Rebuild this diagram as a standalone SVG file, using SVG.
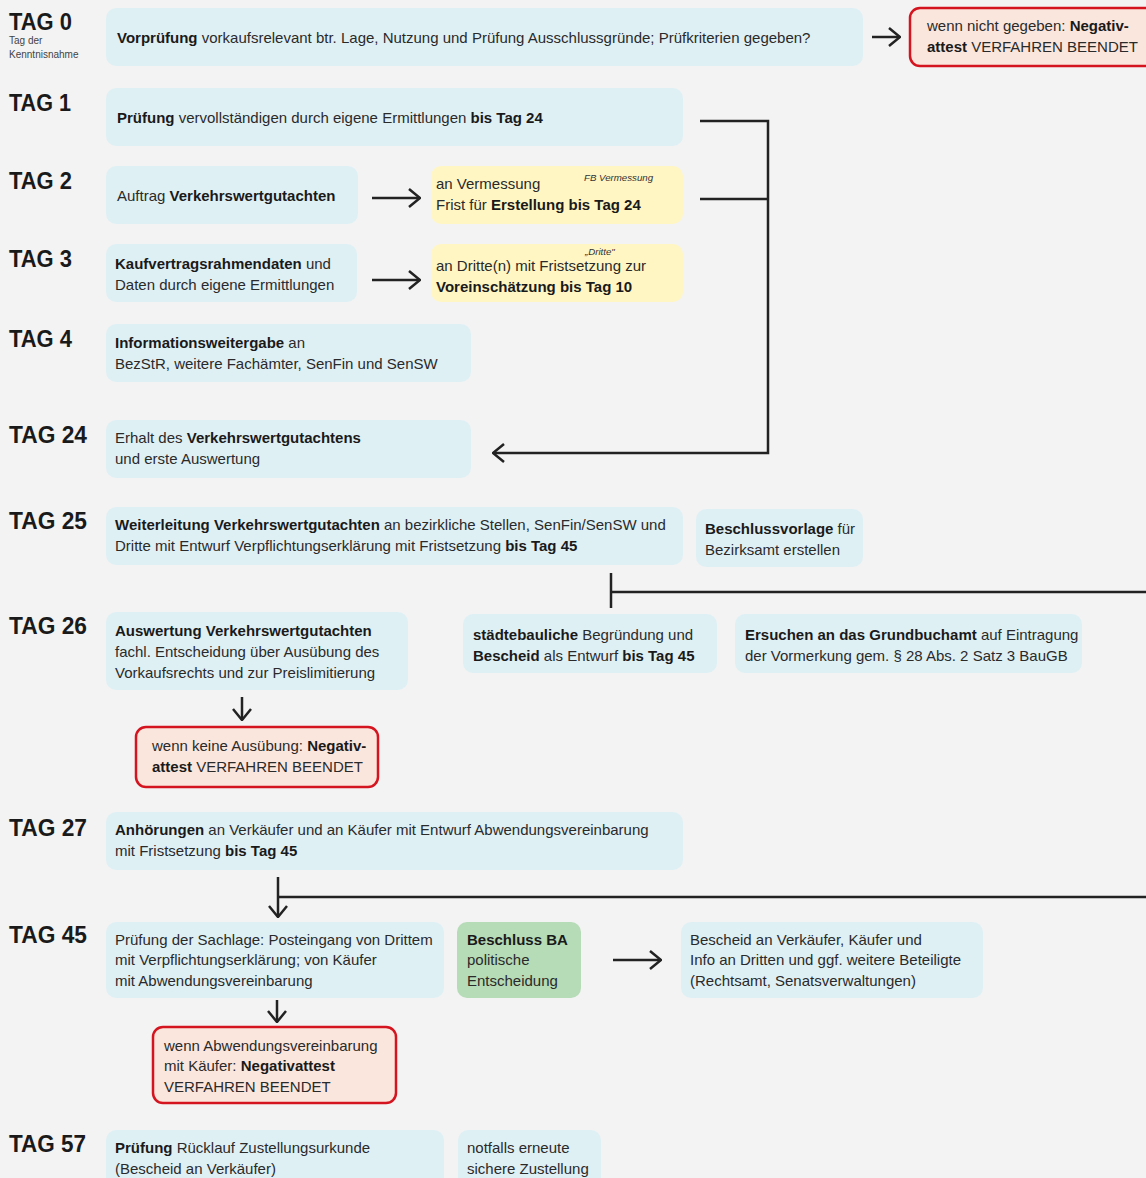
<svg xmlns="http://www.w3.org/2000/svg" width="1146" height="1178" viewBox="0 0 1146 1178">
<style>
text{font-family:"Liberation Sans",Arial,sans-serif;fill:#2a2a2a;font-size:15px}
.tag{font-size:24px;font-weight:bold;fill:#1a1a1a}
.sub{font-size:10px;fill:#444}
.note{font-size:9.7px;font-style:italic;fill:#333}
.b{font-weight:bold;fill:#1a1a1a}
.blue{fill:#dff0f5}
.yel{fill:#fff6c4}
.grn{fill:#b6dbb7}
.red{fill:#fbe6dd;stroke:#d4141f;stroke-width:2.5}
.ln{fill:none;stroke:#222;stroke-width:2.5}
</style>
<defs>
<marker id="ah" viewBox="0 0 14 20" refX="13" refY="10" markerWidth="14" markerHeight="20" markerUnits="userSpaceOnUse" orient="auto">
<path d="M2,1 L13,10 L2,19" fill="none" stroke="#222" stroke-width="2.5"/>
</marker>
</defs>
<rect width="1146" height="1178" fill="#f3f3f3"/>

<g id="labels">
<text class="tag" x="9" y="30" textLength="63" lengthAdjust="spacingAndGlyphs">TAG 0</text>
<text class="sub" x="9" y="44">Tag der</text>
<text class="sub" x="9" y="58">Kenntnisnahme</text>
<text class="tag" x="9" y="111" textLength="62" lengthAdjust="spacingAndGlyphs">TAG 1</text>
<text class="tag" x="9" y="189" textLength="63" lengthAdjust="spacingAndGlyphs">TAG 2</text>
<text class="tag" x="9" y="267" textLength="63" lengthAdjust="spacingAndGlyphs">TAG 3</text>
<text class="tag" x="9" y="347" textLength="63" lengthAdjust="spacingAndGlyphs">TAG 4</text>
<text class="tag" x="9" y="443" textLength="78" lengthAdjust="spacingAndGlyphs">TAG 24</text>
<text class="tag" x="9" y="529" textLength="78" lengthAdjust="spacingAndGlyphs">TAG 25</text>
<text class="tag" x="9" y="634" textLength="78" lengthAdjust="spacingAndGlyphs">TAG 26</text>
<text class="tag" x="9" y="836" textLength="78" lengthAdjust="spacingAndGlyphs">TAG 27</text>
<text class="tag" x="9" y="943" textLength="78" lengthAdjust="spacingAndGlyphs">TAG 45</text>
<text class="tag" x="9" y="1152" textLength="77" lengthAdjust="spacingAndGlyphs">TAG 57</text>
</g>

<g id="n0">
<rect class="blue" x="106" y="8" width="757" height="58" rx="10"/>
<text x="117" y="43"><tspan class="b">Vorprüfung</tspan> vorkaufsrelevant btr. Lage, Nutzung und Prüfung Ausschlussgründe; Prüfkriterien gegeben?</text>
</g>
<g id="n0neg">
<rect class="red" x="910" y="8" width="250" height="58" rx="10"/>
<text x="927" y="31">wenn nicht gegeben: <tspan class="b">Negativ-</tspan></text>
<text x="927" y="52"><tspan class="b">attest</tspan> VERFAHREN BEENDET</text>
</g>

<g id="n1">
<rect class="blue" x="106" y="88" width="577" height="58" rx="10"/>
<text x="117" y="123"><tspan class="b">Prüfung</tspan> vervollständigen durch eigene Ermittlungen <tspan class="b">bis Tag 24</tspan></text>
</g>

<g id="n2">
<rect class="blue" x="106" y="166" width="252" height="58" rx="10"/>
<text x="117" y="201">Auftrag <tspan class="b">Verkehrswertgutachten</tspan></text>
</g>
<g id="n2v">
<rect class="yel" x="431" y="166" width="252" height="58" rx="10"/>
<text class="note" x="584" y="181">FB Vermessung</text>
<text x="436" y="189">an Vermessung</text>
<text x="436" y="210">Frist für <tspan class="b">Erstellung bis Tag 24</tspan></text>
</g>

<g id="n3">
<rect class="blue" x="106" y="244" width="251" height="58" rx="10"/>
<text x="115" y="269"><tspan class="b">Kaufvertragsrahmendaten</tspan> und</text>
<text x="115" y="290">Daten durch eigene Ermittlungen</text>
</g>
<g id="n3d">
<rect class="yel" x="431" y="244" width="252" height="58" rx="10"/>
<text class="note" x="585" y="255">„Dritte"</text>
<text x="436" y="271">an Dritte(n) mit Fristsetzung zur</text>
<text x="436" y="292"><tspan class="b">Voreinschätzung bis Tag 10</tspan></text>
</g>

<g id="n4">
<rect class="blue" x="106" y="324" width="365" height="58" rx="10"/>
<text x="115" y="348"><tspan class="b">Informationsweitergabe</tspan> an</text>
<text x="115" y="369">BezStR, weitere Fachämter, SenFin und SenSW</text>
</g>

<g id="n24">
<rect class="blue" x="106" y="420" width="365" height="58" rx="10"/>
<text x="115" y="443">Erhalt des <tspan class="b">Verkehrswertgutachtens</tspan></text>
<text x="115" y="464">und erste Auswertung</text>
</g>

<g id="n25">
<rect class="blue" x="106" y="507" width="577" height="58" rx="10"/>
<text x="115" y="530"><tspan class="b">Weiterleitung Verkehrswertgutachten</tspan> an bezirkliche Stellen, SenFin/SenSW und</text>
<text x="115" y="551">Dritte mit Entwurf Verpflichtungserklärung mit Fristsetzung <tspan class="b">bis Tag 45</tspan></text>
</g>
<g id="n25b">
<rect class="blue" x="696" y="509" width="167" height="58" rx="10"/>
<text x="705" y="534"><tspan class="b">Beschlussvorlage</tspan> für</text>
<text x="705" y="555">Bezirksamt erstellen</text>
</g>

<g id="n26">
<rect class="blue" x="106" y="612" width="302" height="78" rx="10"/>
<text x="115" y="636"><tspan class="b">Auswertung Verkehrswertgutachten</tspan></text>
<text x="115" y="657">fachl. Entscheidung über Ausübung des</text>
<text x="115" y="678">Vorkaufsrechts und zur Preislimitierung</text>
</g>
<g id="n26s">
<rect class="blue" x="463" y="614" width="254" height="59" rx="10"/>
<text x="473" y="640"><tspan class="b">städtebauliche</tspan> Begründung und</text>
<text x="473" y="661"><tspan class="b">Bescheid</tspan> als Entwurf <tspan class="b">bis Tag 45</tspan></text>
</g>
<g id="n26g">
<rect class="blue" x="735" y="614" width="347" height="59" rx="10"/>
<text x="745" y="640"><tspan class="b">Ersuchen an das Grundbuchamt</tspan> auf Eintragung</text>
<text x="745" y="661">der Vormerkung gem. § 28 Abs. 2 Satz 3 BauGB</text>
</g>
<g id="n26neg">
<rect class="red" x="136" y="727" width="242" height="60" rx="10"/>
<text x="152" y="751">wenn keine Ausübung: <tspan class="b">Negativ-</tspan></text>
<text x="152" y="772"><tspan class="b">attest</tspan> VERFAHREN BEENDET</text>
</g>

<g id="n27">
<rect class="blue" x="106" y="812" width="577" height="58" rx="10"/>
<text x="115" y="835"><tspan class="b">Anhörungen</tspan> an Verkäufer und an Käufer mit Entwurf Abwendungsvereinbarung</text>
<text x="115" y="856">mit Fristsetzung <tspan class="b">bis Tag 45</tspan></text>
</g>

<g id="n45">
<rect class="blue" x="106" y="922" width="338" height="76" rx="10"/>
<text x="115" y="945">Prüfung der Sachlage: Posteingang von Drittem</text>
<text x="115" y="965">mit Verpflichtungserklärung; von Käufer</text>
<text x="115" y="986">mit Abwendungsvereinbarung</text>
</g>
<g id="n45ba">
<rect class="grn" x="457" y="922" width="124" height="76" rx="10"/>
<text x="467" y="945"><tspan class="b">Beschluss BA</tspan></text>
<text x="467" y="965">politische</text>
<text x="467" y="986">Entscheidung</text>
</g>
<g id="n45b">
<rect class="blue" x="681" y="922" width="302" height="76" rx="10"/>
<text x="690" y="945">Bescheid an Verkäufer, Käufer und</text>
<text x="690" y="965">Info an Dritten und ggf. weitere Beteiligte</text>
<text x="690" y="986">(Rechtsamt, Senatsverwaltungen)</text>
</g>
<g id="n45neg">
<rect class="red" x="153" y="1027" width="243" height="76" rx="10"/>
<text x="164" y="1051">wenn Abwendungsvereinbarung</text>
<text x="164" y="1071">mit Käufer: <tspan class="b">Negativattest</tspan></text>
<text x="164" y="1092">VERFAHREN BEENDET</text>
</g>

<g id="n57">
<rect class="blue" x="106" y="1130" width="338" height="70" rx="10"/>
<text x="115" y="1153"><tspan class="b">Prüfung</tspan> Rücklauf Zustellungsurkunde</text>
<text x="115" y="1174">(Bescheid an Verkäufer)</text>
</g>
<g id="n57b">
<rect class="blue" x="458" y="1130" width="143" height="70" rx="10"/>
<text x="467" y="1153">notfalls erneute</text>
<text x="467" y="1174">sichere Zustellung</text>
</g>

<g id="connectors">
<line class="ln" x1="872" y1="37" x2="900" y2="37" marker-end="url(#ah)"/>
<line class="ln" x1="372" y1="198" x2="420" y2="198" marker-end="url(#ah)"/>
<line class="ln" x1="372" y1="280" x2="420" y2="280" marker-end="url(#ah)"/>
<polyline class="ln" points="700,121 768,121 768,453 493,453" marker-end="url(#ah)"/>
<line class="ln" x1="700" y1="199" x2="768" y2="199"/>
<line class="ln" x1="611" y1="573" x2="611" y2="608"/>
<line class="ln" x1="611" y1="592" x2="1146" y2="592"/>
<line class="ln" x1="242" y1="697" x2="242" y2="720" marker-end="url(#ah)"/>
<line class="ln" x1="278" y1="877" x2="278" y2="917" marker-end="url(#ah)"/>
<line class="ln" x1="278" y1="897" x2="1146" y2="897"/>
<line class="ln" x1="613" y1="960" x2="661" y2="960" marker-end="url(#ah)"/>
<line class="ln" x1="277" y1="1000" x2="277" y2="1022" marker-end="url(#ah)"/>
</g>
</svg>
